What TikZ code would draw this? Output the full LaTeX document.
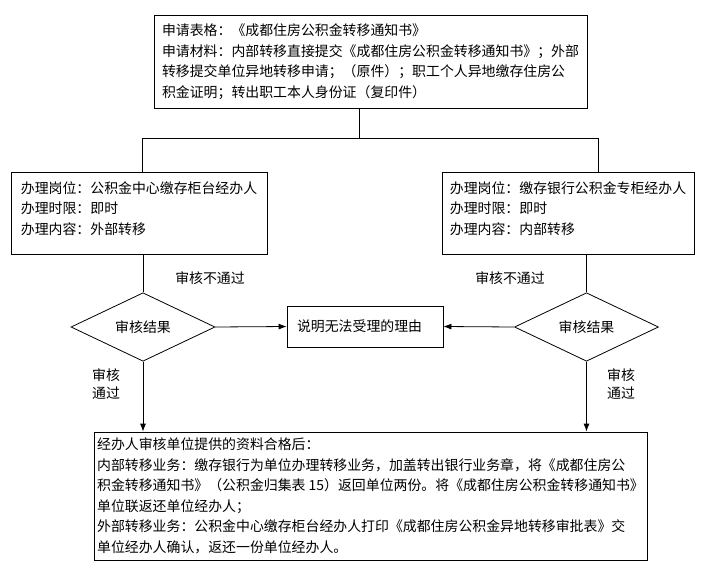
\documentclass[tikz,border=0pt]{standalone}
\usepackage{fontspec}
\setmainfont{Noto Sans CJK SC}
\usetikzlibrary{arrows.meta, shapes.geometric, calc}

\begin{document}
\begin{tikzpicture}[
    x=1pt, y=-1pt,
    every node/.style={font=\fontsize{13.9}{20.5}\selectfont},
    box/.style={rectangle, draw, line width=0.8pt, inner sep=0pt, align=left},
    decide/.style={diamond, draw, line width=0.8pt, inner sep=0pt, minimum width=144pt, minimum height=62pt},
    note/.style={align=left, inner sep=0pt},
    arrow/.style={-{Latex[length=8pt, width=6pt]}, line width=0.8pt}
]
    \useasboundingbox (0,0) rectangle (706,568);

    % Application box (top)
    \node[box, minimum width=433pt, minimum height=93pt] (apply) at (370.5,61.5)
        {申请表格：《成都住房公积金转移通知书》\\
         申请材料：内部转移直接提交《成都住房公积金转移通知书》；外部\\
         转移提交单位异地转移申请；（原件）；职工个人异地缴存住房公\\
         积金证明；转出职工本人身份证（复印件）};

    % --- Two counters ---
    \node[box, minimum width=256pt, minimum height=82pt] (centre) at (139,213)
        {办理岗位：公积金中心缴存柜台经办人\\
         办理时限：即时\\
         办理内容：外部转移\\[-10pt]~};
    \node[box, minimum width=252pt, minimum height=82pt] (bank) at (568,213)
        {办理岗位：缴存银行公积金专柜经办人\\
         办理时限：即时\\
         办理内容：内部转移\\[-10pt]~};

    % --- Checks ---
    \node[decide] (checkL) at (143,327) {审核结果};
    \node[decide] (checkR) at (586.5,327) {审核结果};
    \node[box, minimum width=156pt, minimum height=41pt, text width=136pt] (reason) at (365,326.5)
        {说明无法受理的理由};

    % Result box (bottom)
    \node[box, minimum width=553pt, minimum height=128pt] (result) at (370.5,496)
        {经办人审核单位提供的资料合格后：\\
         内部转移业务：缴存银行为单位办理转移业务，加盖转出银行业务章，将《成都住房公\\
         积金转移通知书》（公积金归集表 15）返回单位两份。将《成都住房公积金转移通知书》\\
         单位联返还单位经办人；\\
         外部转移业务：公积金中心缴存柜台经办人打印《成都住房公积金异地转移审批表》交\\
         单位经办人确认，返还一份单位经办人。};

    % --- Labels ---
    \node[note] (failL) at (210,278) {审核不通过};
    \node[note] (failR) at (510,278) {审核不通过};
    \node[note] (passL) at (106,384) {审核\\[-2pt]通过};
    \node[note] (passR) at (621,384) {审核\\[-2pt]通过};

    % --- Connectors ---
    \coordinate (split) at (359,138);
    \coordinate (jL) at (142,138);
    \coordinate (jR) at (598,138);
    \draw[line width=0.8pt] (apply.south -| split) -- (split);
    \draw[line width=0.8pt] (jL |- centre.north) -- (jL) -- (jR) -- (jR |- bank.north);

    \draw[line width=0.8pt] (centre.south -| checkL.north) -- (checkL.north);
    \draw[line width=0.8pt] (bank.south -| checkR.north) -- (checkR.north);
    \draw[arrow] (checkL.east) -- (reason.west);
    \draw[arrow] (checkR.west) -- (reason.east);
    \draw[arrow] (checkL.south) -- (checkL.south |- result.north);
    \draw[arrow] (checkR.south) -- (checkR.south |- result.north);

\end{tikzpicture}
\end{document}
